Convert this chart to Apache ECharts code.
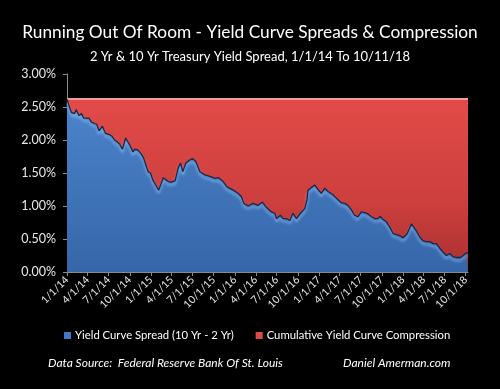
<!DOCTYPE html>
<html>
<head>
<meta charset="utf-8">
<script src="https://cdn.jsdelivr.net/npm/echarts@6/dist/echarts.min.js"></script>
<style>
html,body{margin:0;padding:0;background:#000;}
#chart{width:500px;height:389px;}
</style>
</head>
<body>
<div id="chart"></div>
<script>
// ---- data ----
var dates = [
'2014-01-01','2014-01-10','2014-01-20','2014-01-28','2014-02-03','2014-02-10','2014-02-22','2014-03-05','2014-03-15','2014-03-23',
'2014-04-07','2014-04-17','2014-05-01','2014-05-10','2014-05-20','2014-06-04','2014-06-18','2014-07-05','2014-07-15','2014-07-27',
'2014-08-08','2014-08-18','2014-08-30','2014-09-13','2014-09-30','2014-10-15','2014-10-22','2014-11-05','2014-11-20','2014-12-01',
'2014-12-10','2014-12-20','2014-12-30','2015-01-09','2015-01-20','2015-02-04','2015-02-12','2015-02-24','2015-03-06','2015-03-18',
'2015-03-30','2015-04-16','2015-04-30','2015-05-10','2015-05-19','2015-06-02','2015-06-20','2015-07-01','2015-07-16','2015-08-02',
'2015-08-24','2015-09-15','2015-10-06','2015-10-21','2015-11-11','2015-11-28','2015-12-25','2016-01-16','2016-01-30','2016-02-09',
'2016-02-28','2016-03-21','2016-04-11','2016-04-30','2016-05-17','2016-06-08','2016-06-23','2016-06-30','2016-07-17','2016-07-29',
'2016-08-12','2016-08-27','2016-09-10','2016-09-25','2016-10-12','2016-10-31','2016-11-06','2016-11-10','2016-11-14','2016-11-29',
'2016-12-13','2016-12-28','2017-01-11','2017-01-26','2017-02-09','2017-02-17','2017-03-03','2017-03-17','2017-04-08','2017-04-23',
'2017-05-07','2017-05-22','2017-06-05','2017-06-20','2017-07-04','2017-07-19','2017-08-02','2017-08-16','2017-08-31','2017-09-14',
'2017-09-24','2017-10-06','2017-10-21','2017-11-05','2017-11-20','2017-12-11','2018-01-02','2018-01-19','2018-01-31','2018-02-07',
'2018-02-17','2018-03-01','2018-03-15','2018-03-30','2018-04-13','2018-04-28','2018-05-12','2018-05-27','2018-06-10','2018-06-25',
'2018-07-09','2018-07-24','2018-08-07','2018-08-22','2018-09-08','2018-09-20','2018-10-04','2018-10-11'
];
var spread = [
2.62,2.52,2.42,2.45,2.40,2.46,2.37,2.40,2.33,2.30,
2.33,2.27,2.25,2.24,2.14,2.21,2.10,2.08,2.06,2.00,
1.97,1.94,1.86,2.03,1.93,1.82,1.86,1.85,1.79,1.72,
1.62,1.52,1.50,1.40,1.33,1.24,1.32,1.43,1.40,1.37,
1.36,1.38,1.58,1.65,1.52,1.65,1.70,1.72,1.67,1.52,
1.47,1.45,1.42,1.43,1.37,1.29,1.24,1.19,1.14,1.04,
1.00,1.04,1.01,1.06,0.98,0.91,0.89,0.81,0.86,0.81,
0.81,0.78,0.89,0.81,0.89,0.96,0.95,1.10,1.24,1.28,
1.32,1.25,1.19,1.27,1.22,1.24,1.17,1.12,1.05,1.04,
1.01,0.94,0.86,0.84,0.91,0.90,0.88,0.84,0.81,0.81,
0.84,0.80,0.76,0.68,0.58,0.56,0.52,0.58,0.67,0.73,
0.68,0.62,0.53,0.47,0.46,0.46,0.43,0.43,0.36,0.30,
0.25,0.28,0.23,0.22,0.22,0.25,0.29,0.29
];
var startSpread = 2.62; // level of the spread on 1/1/14 (top of compression area)
var tickLabels = ['1/1/14','4/1/14','7/1/14','10/1/14','1/1/15','4/1/15','7/1/15','10/1/15','1/1/16','4/1/16',
'7/1/16','10/1/16','1/1/17','4/1/17','7/1/17','10/1/17','1/1/18','4/1/18','7/1/18','10/1/18'];

// ---- helpers ----
function tsIso(s){ var p = s.split('-'); return Date.UTC(+p[0], +p[1]-1, +p[2]); }
function tsUs(s){ var p = s.split('/'); return Date.UTC(2000 + (+p[2]), +p[0]-1, +p[1]); }
var tickTs = tickLabels.map(tsUs);
var labelByTs = {};
tickTs.forEach(function(t,i){ labelByTs[t] = tickLabels[i]; });
var blueData = dates.map(function(d,i){ return [tsIso(d), spread[i]]; });
var redData = [[tsIso(dates[0]), startSpread], [tsIso(dates[dates.length-1]), startSpread]];

var nameBlue = 'Yield Curve Spread (10 Yr - 2 Yr)';
var nameRed = 'Cumulative Yield Curve Compression';
var font = 'Lato, "Open Sans", sans-serif';

var chart = echarts.init(document.getElementById('chart'), null, {renderer:'canvas'});
chart.setOption({
  backgroundColor: '#000',
  animation: false,
  textStyle: {fontFamily: font},
  title: [
    {text: 'Running Out Of Room - Yield Curve Spreads & Compression', left: 'center', top: 19,
     textStyle: {color: '#fff', fontSize: 17.3, fontWeight: 'normal', fontFamily: font}},
    {text: '2 Yr & 10 Yr Treasury Yield Spread, 1/1/14 To 10/11/18', left: 'center', top: 45,
     textStyle: {color: '#fff', fontSize: 13, fontWeight: 'normal', fontFamily: font}},
    {text: 'Data Source:  Federal Reserve Bank Of St. Louis', left: 43, top: 352,
     textStyle: {color: '#fff', fontSize: 12, fontStyle: 'italic', fontWeight: 'normal', fontFamily: font}},
    {text: 'Daniel Amerman.com', left: 338, top: 352,
     textStyle: {color: '#fff', fontSize: 12, fontStyle: 'italic', fontWeight: 'normal', fontFamily: font}}
  ],
  legend: {
    data: [nameBlue, nameRed],
    left: 59, top: 325,
    icon: 'rect', itemWidth: 7, itemHeight: 7, itemGap: 22, itemStyle: {borderWidth: 0},
    textStyle: {color: '#fff', fontSize: 11.3, fontFamily: font, padding: [0, 0, 0, -1]}
  },
  grid: {left: 67, right: 32, top: 74, bottom: 117},
  xAxis: {
    type: 'value',
    min: tsIso('2014-01-01'), max: tsIso('2018-10-11'),
    axisLine: {show: true, onZero: false, lineStyle: {color: '#8a8a8a', width: 1}},
    axisTick: {show: true, customValues: tickTs, length: 4, lineStyle: {color: '#8a8a8a'}},
    axisLabel: {customValues: tickTs, rotate: 45, color: '#e8e8e8', fontSize: 10.5, margin: 6,
      showMinLabel: true, showMaxLabel: true,
      formatter: function(v){ return labelByTs[v] || ''; }},
    splitLine: {show: false}
  },
  yAxis: {
    type: 'value', min: 0, max: 3, interval: 0.5,
    axisLine: {show: true, lineStyle: {color: '#8a8a8a', width: 1}},
    axisTick: {show: true, length: 4, lineStyle: {color: '#8a8a8a'}},
    axisLabel: {color: '#e8e8e8', fontSize: 12.5, margin: 11,
      formatter: function(v){ return v.toFixed(2) + '%'; }},
    splitLine: {show: false}
  },
  series: [
    {
      name: nameRed, type: 'line', data: redData, symbol: 'none', z: 1,
      lineStyle: {color: '#f29a96', width: 2},
      itemStyle: {color: '#e04845'},
      areaStyle: {opacity: 1, color: new echarts.graphic.LinearGradient(0,0,0,1,[
        {offset: 0, color: '#e24b48'}, {offset: 0.6, color: '#cc3f3d'}, {offset: 1, color: '#a83030'}])}
    },
    {
      name: nameBlue, type: 'line', data: blueData, symbol: 'none', z: 2,
      lineStyle: {color: '#1a2747', width: 1.3, shadowColor: 'rgba(160,205,250,0.85)', shadowBlur: 3, shadowOffsetY: 3},
      itemStyle: {color: '#3f78c4'},
      areaStyle: {opacity: 1, color: new echarts.graphic.LinearGradient(0,0,0,1,[
        {offset: 0, color: '#4c84cb'}, {offset: 1, color: '#3566a9'}])}
    }
  ]
});
</script>
</body>
</html>
